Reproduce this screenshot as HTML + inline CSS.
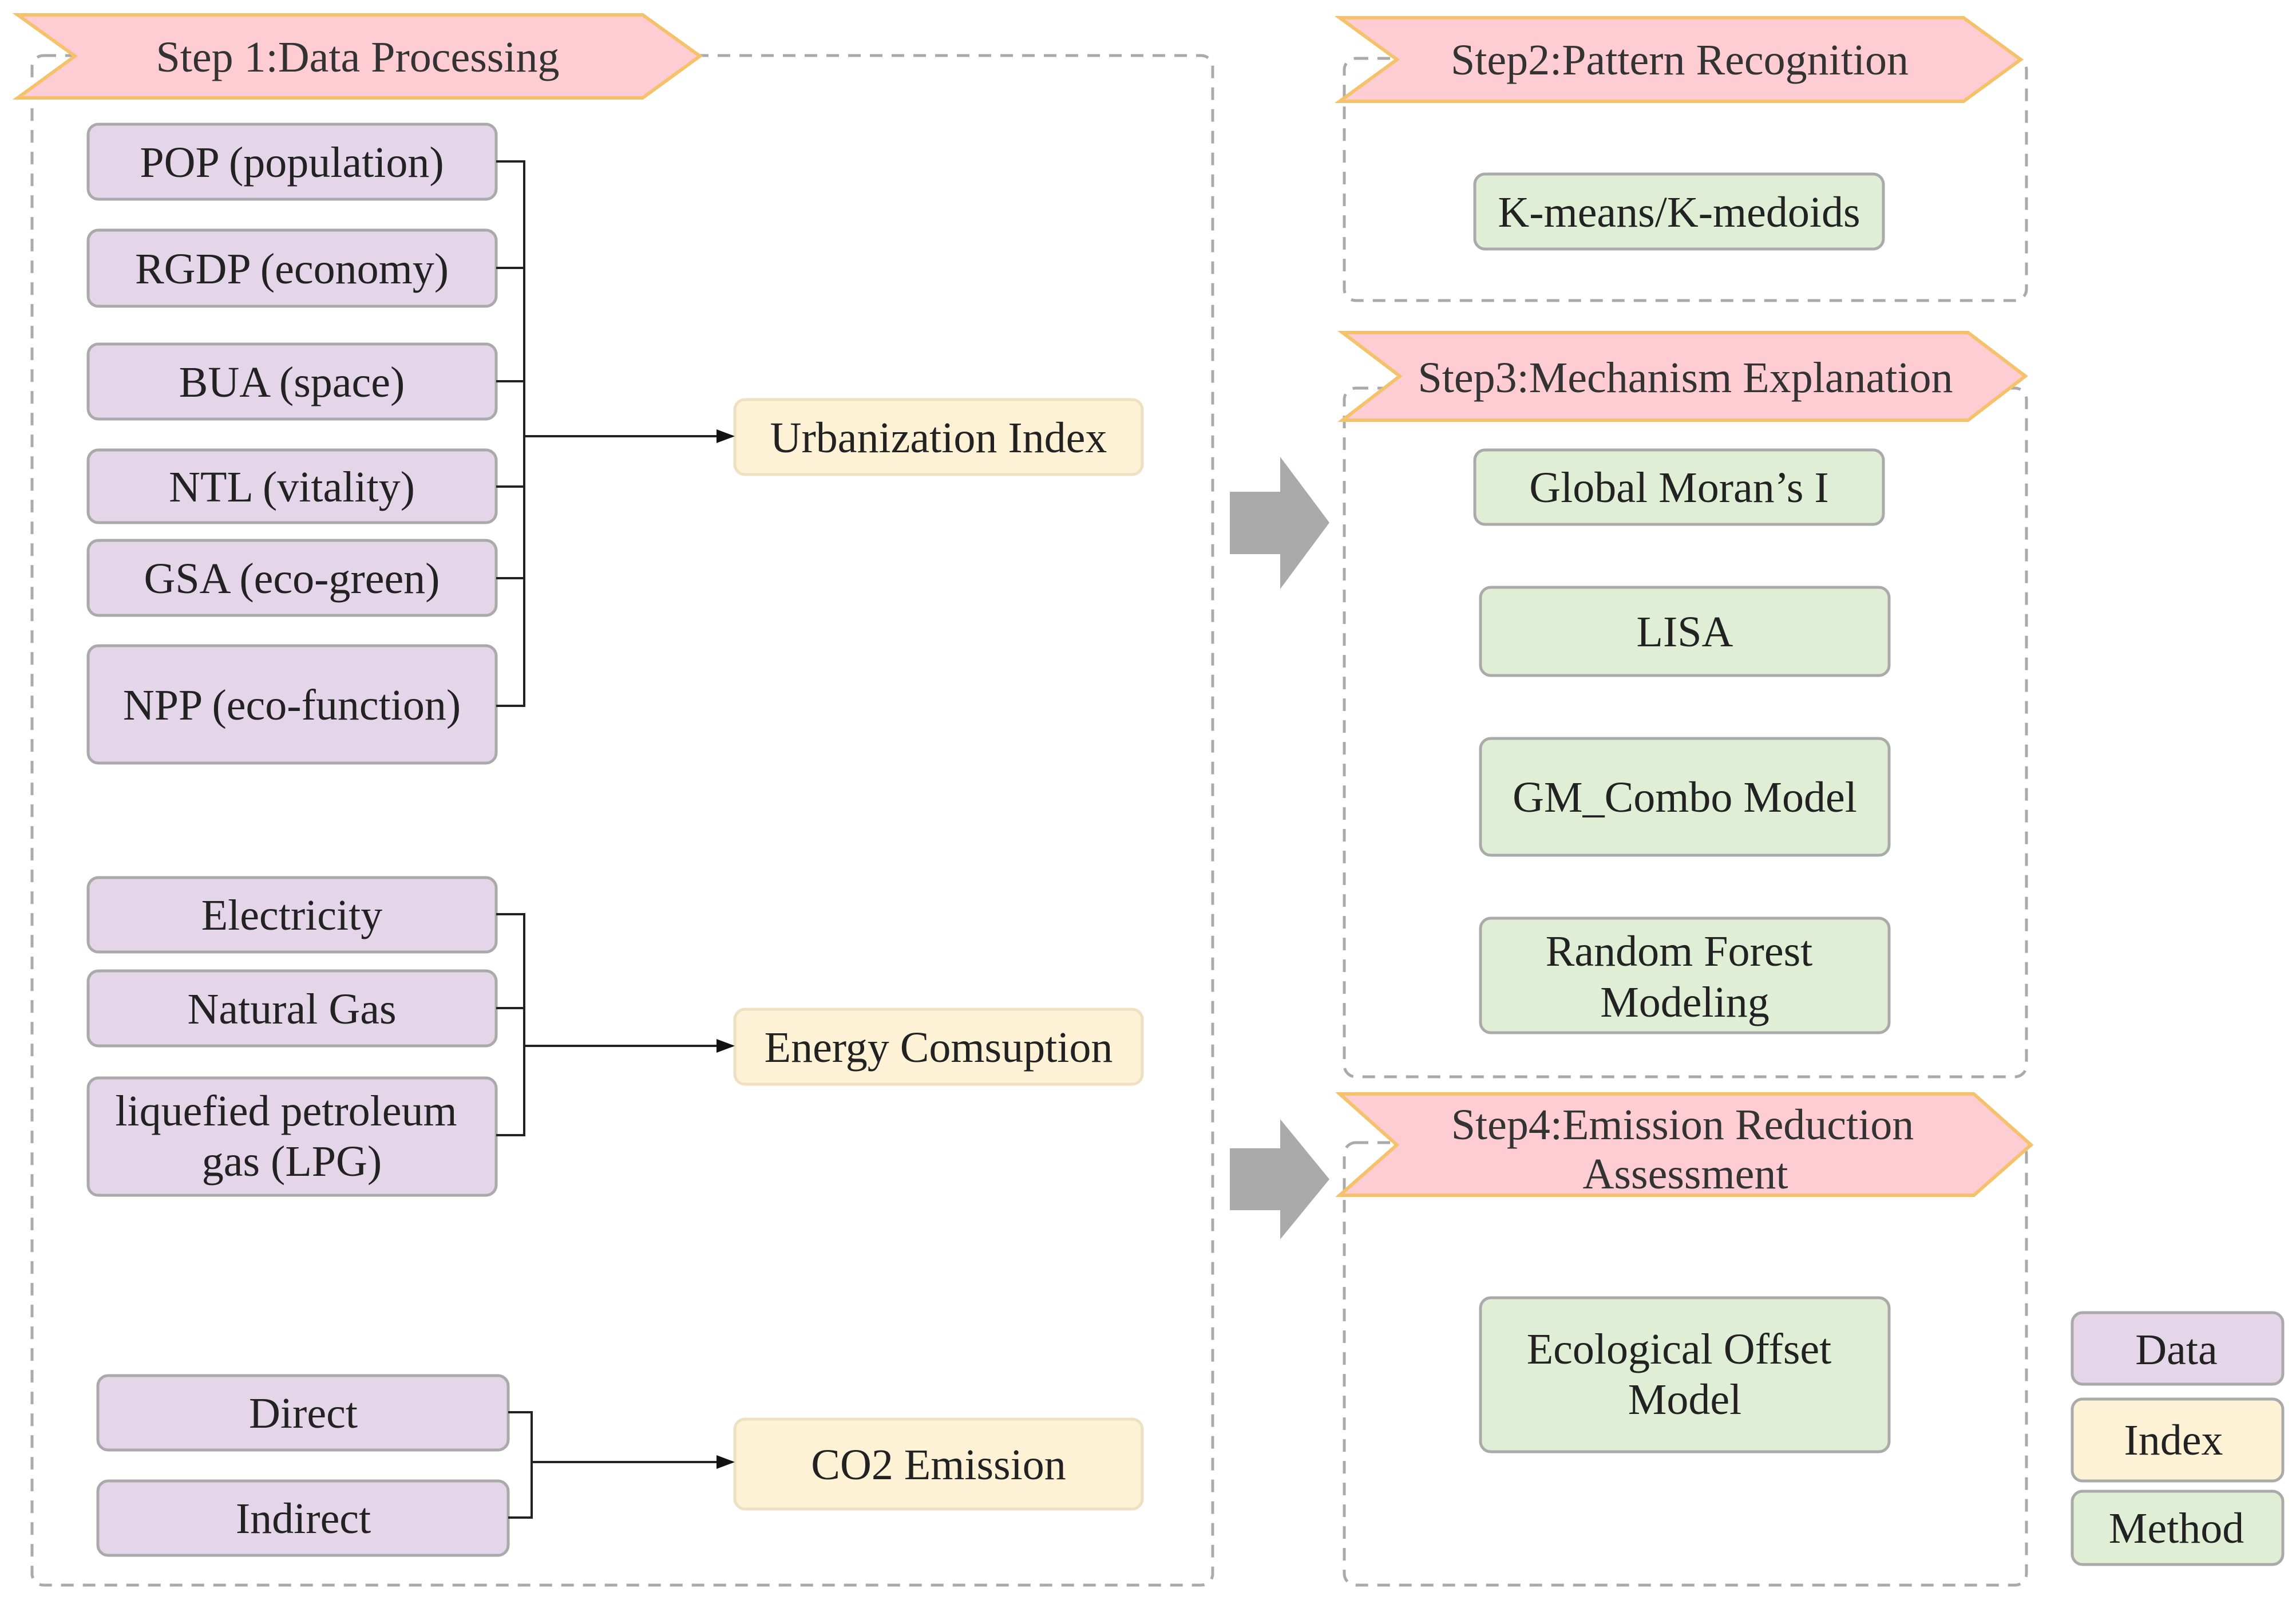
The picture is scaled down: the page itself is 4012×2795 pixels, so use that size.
<!DOCTYPE html>
<html><head><meta charset="utf-8"><style>html,body{margin:0;padding:0;background:#fff}svg{display:block}</style></head>
<body>
<svg width="4012" height="2795" viewBox="0 0 4012 2795" xmlns="http://www.w3.org/2000/svg" font-family="Liberation Serif, serif" fill="#222">
<defs>
<marker id="ar" markerWidth="8" markerHeight="8" refX="7" refY="4" orient="auto" markerUnits="strokeWidth"><path d="M0,1 L8,4 L0,7 z" fill="#111"/></marker>
</defs>
<g fill="none" stroke="#aaa" stroke-width="5" stroke-dasharray="22,16">
<rect x="56" y="97" width="2063" height="2672" rx="20"/>
<rect x="2349" y="102" width="1192" height="423" rx="20"/>
<rect x="2349" y="678" width="1192" height="1203" rx="20"/>
<rect x="2349" y="1996" width="1192" height="773" rx="20"/>
</g>
<g fill="#fdcdd3" stroke="#f6c16b" stroke-width="6">
<path d="M31,26 L1123,26 L1223,98 L1123,171 L31,171 L131,98 z"/>
<path d="M2341,31 L3431,31 L3531,104 L3431,177 L2341,177 L2441,104 z"/>
<path d="M2346,581 L3439,581 L3539,657 L3439,734 L2346,734 L2446,657 z"/>
<path d="M2341,1911 L3449,1911 L3549,2000 L3449,2088 L2341,2088 L2441,2000 z"/>
</g>
<g font-size="76" text-anchor="middle" fill="#333">
<text x="625" y="125">Step 1:Data Processing</text>
<text x="2935" y="130">Step2:Pattern Recognition</text>
<text x="2945" y="685">Step3:Mechanism Explanation</text>
<text x="2940" y="1990">Step4:Emission Reduction</text>
<text x="2945" y="2076">Assessment</text>
</g>
<g stroke="#aaa" stroke-width="5">
<g fill="#e4d5e8">
<rect x="154" y="217" width="713" height="131" rx="18"/>
<rect x="154" y="402" width="713" height="133" rx="18"/>
<rect x="154" y="601" width="713" height="131" rx="18"/>
<rect x="154" y="786" width="713" height="127" rx="18"/>
<rect x="154" y="944" width="713" height="131" rx="18"/>
<rect x="154" y="1128" width="713" height="205" rx="18"/>
<rect x="154" y="1533" width="713" height="130" rx="18"/>
<rect x="154" y="1696" width="713" height="131" rx="18"/>
<rect x="154" y="1883" width="713" height="205" rx="18"/>
<rect x="171" y="2403" width="717" height="130" rx="18"/>
<rect x="171" y="2587" width="717" height="130" rx="18"/>
<rect x="3621" y="2293" width="368" height="125" rx="18"/>
</g>
<g fill="#fdf1d6" stroke="#eee0c0">
<rect x="1284" y="698" width="712" height="131" rx="18"/>
<rect x="1284" y="1763" width="712" height="131" rx="18"/>
<rect x="1284" y="2479" width="712" height="157" rx="18"/>
</g>
<rect x="3621" y="2444" width="368" height="143" rx="18" fill="#fdf1d6"/>
<g fill="#e0eed5">
<rect x="2577" y="304" width="714" height="131" rx="18"/>
<rect x="2577" y="786" width="714" height="130" rx="18"/>
<rect x="2587" y="1026" width="714" height="154" rx="18"/>
<rect x="2587" y="1290" width="714" height="204" rx="18"/>
<rect x="2587" y="1604" width="714" height="200" rx="18"/>
<rect x="2587" y="2267" width="714" height="269" rx="18"/>
<rect x="3621" y="2605" width="368" height="128" rx="18"/>
</g>
</g>
<g fill="none" stroke="#222" stroke-width="4">
<path d="M867,282 H916 V1233 H867 M867,468 H916 M867,666 H916 M867,850 H916 M867,1010 H916"/>
<path d="M916,762 H1280" marker-end="url(#ar)"/>
<path d="M867,1597 H916 V1983 H867 M867,1761 H916"/>
<path d="M916,1827 H1280" marker-end="url(#ar)"/>
<path d="M888,2467 H929 V2651 H888"/>
<path d="M929,2554 H1280" marker-end="url(#ar)"/>
</g>
<g fill="#aaa">
<path d="M2149,859 H2237 V798 L2323,913 L2237,1029 V968 H2149 z"/>
<path d="M2149,2006 H2237 V1955 L2323,2060 L2237,2165 V2114 H2149 z"/>
</g>
<g font-size="76" text-anchor="middle" fill="#222">
<text x="510" y="309">POP (population)</text>
<text x="510" y="495">RGDP (economy)</text>
<text x="510" y="693">BUA (space)</text>
<text x="510" y="876">NTL (vitality)</text>
<text x="510" y="1036">GSA (eco-green)</text>
<text x="510" y="1257">NPP (eco-function)</text>
<text x="510" y="1624">Electricity</text>
<text x="510" y="1788">Natural Gas</text>
<text x="500" y="1966">liquefied petroleum</text>
<text x="510" y="2054">gas (LPG)</text>
<text x="530" y="2494">Direct</text>
<text x="530" y="2678">Indirect</text>
<text x="1640" y="790">Urbanization Index</text>
<text x="1640" y="1855">Energy Comsuption</text>
<text x="1640" y="2584">CO2 Emission</text>
<text x="2934" y="396">K-means/K-medoids</text>
<text x="2934" y="877">Global Moran’s I</text>
<text x="2944" y="1129">LISA</text>
<text x="2944" y="1418">GM_Combo Model</text>
<text x="2934" y="1687">Random Forest</text>
<text x="2944" y="1776">Modeling</text>
<text x="2934" y="2382">Ecological Offset</text>
<text x="2944" y="2470">Model</text>
<text x="3803" y="2383">Data</text>
<text x="3798" y="2541">Index</text>
<text x="3803" y="2695">Method</text>
</g>
</svg>
</body></html>
